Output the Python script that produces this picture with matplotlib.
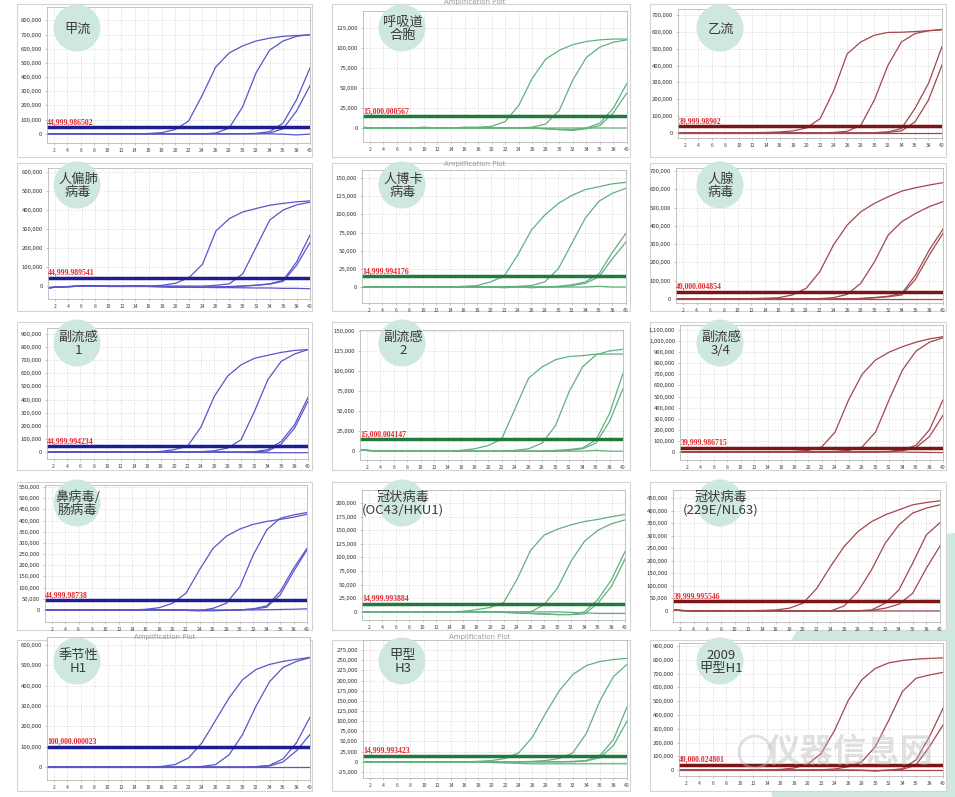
import matplotlib
matplotlib.use("Agg")
import matplotlib.pyplot as plt
from matplotlib.patches import Circle, Rectangle
from matplotlib.ticker import FuncFormatter

plt.rcParams['font.family'] = ['Noto Sans CJK SC', 'DejaVu Sans']

W, H = 955, 797

cycles = [1, 2, 4, 6, 8, 10, 12, 14, 16, 18, 20, 22, 24, 26, 28, 30, 32, 34, 36, 38, 40]

names = ["甲流", "呼吸道\n合胞", "乙流",
         "人偏肺\n病毒", "人博卡\n病毒", "人腺\n病毒",
         "副流感\n1", "副流感\n2", "副流感\n3/4",
         "鼻病毒/\n肠病毒", "冠状病毒\n(OC43/HKU1)", "冠状病毒\n(229E/NL63)",
         "季节性\nH1", "甲型\nH3", "2009\n甲型H1"]

threshold_labels = ["44,999.986502", "15,000.000567", "39,999.98902",
                    "44,999.989541", "14,999.994176", "40,000.004854",
                    "44,999.994234", "15,000.004147", "39,999.986715",
                    "44,999.98738", "14,999.993884", "39,999.995546",
                    "100,000.000023", "14,999.993423", "40,000.024801"]
thresholds = [44999.986502, 15000.000567, 39999.98902,
              44999.989541, 14999.994176, 40000.004854,
              44999.994234, 15000.004147, 39999.986715,
              44999.98738, 14999.993884, 39999.995546,
              100000.000023, 14999.993423, 40000.024801]

# fluorescence values in thousands, one list per well
p01 = [[0, 0, 0, 0, 0, 0, 0, 0, 2, 8, 30, 90, 270, 470, 570, 620, 655, 675, 688, 694, 698],
       [0, 0, 0, 0, 0, 0, 0, 0, 0, 0, 0, 0, 0, 5, 40, 190, 430, 590, 655, 688, 700],
       [0, 0, 0, 0, 0, 0, 0, 0, 0, 0, 0, 0, 0, 0, 0, 1, 3, 15, 75, 240, 465],
       [0, 0, 0, 0, 0, 0, 0, 0, 0, 0, 0, 0, 0, 0, 0, 0, 1, 5, 35, 160, 340],
       [0, 0, 0, 0, 0, 0, 0, 0, 0, 0, 0, 0, 0, 0, 0, 0, 0, 0, -3, -8, -2]]
p02 = [[0, 0, 0, 0, 0, 0, 0, 0, 1, 1, 2, 8, 28, 62, 86, 97, 104, 108, 110, 111, 111],
       [1, 0, 0, 0, 0, 0, 0, 0, 0, 0, 0, 0, 0, 1, 5, 22, 60, 88, 101, 107, 110],
       [1, 0, 0, 0, 0, 0, 0, 0, 0, 0, 0, 0, 0, 0, -1, -2, -2, 0, 6, 25, 56],
       [0, 0, 0, 0, 0, 0, 0, 0, 0, 0, 0, 0, 0, 0, -1, -2, -3, -1, 3, 19, 44],
       [0, 0, 0, 0, 0, 1, 0, 0, 0, 0, 0, 0, 0, 0, 0, 0, 0, 0, 0, 0, 0]]
p03 = [[0, 0, 0, 0, 0, 0, 2, 3, 6, 12, 30, 85, 250, 470, 540, 580, 597, 598, 602, 607, 615],
       [0, 0, 0, 0, 0, 0, 0, 0, 0, 0, 0, 1, 3, 10, 45, 195, 400, 540, 590, 607, 612],
       [0, 0, 0, 0, 0, 0, 0, 0, 0, 0, 0, 0, 0, 0, 0, 2, 6, 26, 145, 294, 512],
       [0, 0, 0, 0, 0, 0, 0, 0, 0, 0, 0, 0, 0, 0, 0, 1, 3, 12, 65, 195, 403],
       [0, 0, 0, 0, 0, 0, 0, 0, 0, 0, 0, 0, 0, 0, 0, 0, 0, 0, 0, 0, 0]]
p04 = [[-10, -6, -3, 0, 2, 0, 0, 2, 0, 4, 15, 45, 115, 290, 355, 390, 408, 425, 435, 443, 448],
       [-10, -6, -3, 0, 0, 0, -2, 0, 0, 0, 0, 0, 0, 4, 12, 65, 206, 347, 400, 427, 441],
       [-10, -6, -3, 0, 0, -2, -2, -2, -2, -3, -5, -6, -6, -5, -3, 0, 5, 12, 30, 127, 268],
       [-10, -6, -3, 0, 0, -2, -2, -2, -2, -3, -5, -6, -6, -5, -3, 0, 4, 10, 25, 109, 229],
       [-8, -5, -3, 0, 0, 0, 0, 0, -2, -4, -6, -7, -7, -8, -8, -9, -10, -10, -12, -12, -14]]
p05 = [[0, 0, 0, 0, 0, 0, 0, 0, 1, 2, 7, 15, 44, 78, 99, 115, 126, 134, 138, 142, 144],
       [0, 0, 0, 0, 0, 0, 0, 0, 0, 0, 0, 0, 1, 2, 7, 25, 60, 95, 118, 129, 136],
       [0, 0, 0, 0, 0, 0, 0, 0, 0, 0, 0, 0, 0, 0, 0, 1, 3, 7, 18, 48, 74],
       [0, 0, 0, 0, 0, 0, 0, 0, 0, 0, 0, 0, 0, 0, 0, 0, 2, 5, 14, 39, 62],
       [0, 0, 0, 0, 0, 0, 0, 0, 0, 0, 0, -1, 0, -1, 0, 0, 0, 0, 1, 0, 0]]
p06 = [[0, 0, 0, 0, 0, 1, 2, 4, 7, 22, 58, 149, 295, 404, 477, 523, 559, 590, 608, 623, 636],
       [0, 0, 0, 0, 0, 0, 0, 0, 0, 0, 1, 2, 7, 25, 86, 204, 350, 423, 468, 505, 532],
       [0, 0, 0, 0, 0, 0, 0, 0, 0, 0, 0, 0, 0, 1, 3, 8, 15, 31, 131, 268, 382],
       [0, 0, 0, 0, 0, 0, 0, 0, 0, 0, 0, 0, 0, 1, 2, 6, 12, 22, 109, 240, 359],
       [0, 0, 0, 0, 0, 0, 0, 0, 0, 0, 0, 0, 0, 0, 0, 0, 0, 0, 0, 0, 0]]
p07 = [[0, 0, 0, 0, 0, 0, 0, 0, 0, 5, 18, 45, 190, 425, 580, 665, 715, 738, 760, 775, 781],
       [0, 0, 0, 0, 0, 0, 0, 0, 0, 0, 0, 0, 3, 10, 30, 94, 310, 552, 692, 748, 781],
       [0, 0, 0, 0, 0, 0, 0, 0, 0, 0, 0, 0, 0, 0, 0, 0, 3, 18, 81, 209, 417],
       [0, 0, 0, 0, 0, 0, 0, 0, 0, 0, 0, 0, 0, 0, 0, 0, 2, 8, 61, 183, 387],
       [0, 0, 0, 0, 0, 0, 0, 0, 0, 0, 0, 0, 0, 0, -2, -3, -4, -5, -5, -5, -5]]
p08 = [[2, 1, 0, 0, 0, 0, 0, 0, 1, 3, 7, 15, 53, 91, 105, 114, 118, 119, 121, 121, 121],
       [2, 1, 0, 0, 0, 0, 0, 0, 0, 0, 0, 0, 1, 3, 10, 32, 74, 105, 120, 125, 127],
       [2, 1, 0, 0, 0, 0, 0, 0, 0, 0, 0, 0, 0, 0, 0, 1, 2, 4, 14, 47, 97],
       [2, 1, 0, 0, 0, 0, 0, 0, 0, 0, 0, 0, 0, 0, 0, 0, 1, 3, 10, 37, 78],
       [2, 1, 0, 0, 0, 0, 0, 0, 0, 0, 0, 0, 0, 0, 0, 0, 0, 0, 1, 0, 0]]
p09 = [[0, 0, 0, 0, 0, 0, 0, 0, 0, 5, 15, 45, 180, 470, 700, 830, 900, 950, 990, 1020, 1040],
       [0, 0, 0, 0, 0, 0, 0, 0, 0, 0, 0, 0, 5, 15, 45, 180, 470, 740, 910, 990, 1030],
       [0, 0, 0, 0, 0, 0, 0, 0, 0, 0, 0, 0, 0, 0, 0, 0, 5, 20, 60, 200, 470],
       [0, 0, 0, 0, 0, 0, 0, 0, 0, 0, 0, 0, 0, 0, 0, 0, 3, 12, 40, 140, 330],
       [0, 0, 0, 0, 0, 0, 0, 0, 0, 0, 0, 0, 0, 0, 0, 0, 0, 0, -2, -4, -5]]
p10 = [[0, 0, 0, 0, 0, 0, 0, 0, 3, 10, 30, 75, 180, 275, 330, 362, 383, 396, 405, 415, 428],
       [0, 0, 0, 0, 0, 0, 0, 0, 0, 0, 0, -2, -3, 7, 30, 104, 246, 358, 410, 425, 436],
       [0, 0, 0, 0, 0, 0, 0, 0, 0, 0, 0, -2, -3, -3, -2, 0, 5, 18, 82, 186, 276],
       [0, 0, 0, 0, 0, 0, 0, 0, 0, 0, 0, -2, -3, -3, -2, 0, 4, 12, 67, 172, 269],
       [0, 0, 0, 0, 0, 0, 0, 0, 0, 0, 0, 0, 0, 0, 0, 0, 0, 1, 2, 3, 5]]
p11 = [[0, 0, 0, 0, 0, 0, 0, 0, 1, 4, 8, 17, 60, 113, 141, 152, 160, 166, 170, 175, 179],
       [0, 0, 0, 0, 0, 0, 0, 0, 0, 0, 0, 0, -1, 0, 13, 44, 93, 130, 150, 162, 169],
       [0, 0, 0, 0, 0, 0, 0, 0, 0, 0, 0, -1, -2, -3, -4, -5, -5, 0, 23, 59, 111],
       [0, 0, 0, 0, 0, 0, 0, 0, 0, 0, 0, -1, -2, -3, -4, -5, -5, -4, 16, 47, 97],
       [0, 0, 0, 0, 0, 0, 0, 0, 0, 0, 0, 0, 0, 0, 0, 0, -1, -2, -3, -3, -3]]
p12 = [[5, 2, 0, 0, 0, 0, 1, 2, 4, 11, 31, 90, 177, 257, 316, 356, 383, 403, 423, 432, 439],
       [5, 2, 0, 0, 0, 0, 0, 0, 0, 0, 0, -2, 0, 20, 77, 164, 270, 343, 390, 410, 423],
       [5, 2, 0, 0, 0, 0, 0, 0, 0, 0, 0, 0, 0, 0, 1, 4, 31, 84, 190, 303, 352],
       [5, 2, 0, 0, 0, 0, 0, 0, 0, 0, 0, 0, 0, 0, 0, 2, 11, 27, 70, 170, 259],
       [5, 2, 0, 0, 0, 0, 0, 0, 0, 0, 0, 0, 0, 0, 0, 0, 0, 0, 0, 0, 0]]
p13 = [[0, 0, 0, 0, 0, 0, 0, 0, 0, 3, 12, 45, 120, 230, 340, 430, 480, 505, 520, 530, 540],
       [0, 0, 0, 0, 0, 0, 0, 0, 0, 0, 0, 0, 3, 12, 60, 160, 300, 420, 490, 520, 538],
       [0, 0, 0, 0, 0, 0, 0, 0, 0, 0, 0, 0, 0, 0, 0, 0, 2, 8, 40, 120, 245],
       [0, 0, 0, 0, 0, 0, 0, 0, 0, 0, 0, 0, 0, 0, 0, 0, 1, 5, 25, 80, 160],
       [0, 0, 0, 0, 0, 0, 0, 0, 0, 0, 0, 0, 0, 0, 0, 0, 0, 0, 0, 0, 0]]
p14 = [[0, 0, 0, 0, 0, 0, 0, 0, 0, 1, 3, 8, 22, 60, 120, 175, 215, 237, 247, 252, 255],
       [0, 0, 0, 0, 0, 0, 0, 0, 0, 0, 0, 0, 0, 1, 3, 8, 22, 70, 150, 210, 240],
       [0, 0, 0, 0, 0, 0, 0, 0, 0, 0, 0, 0, 0, 0, 0, 0, 1, 3, 15, 55, 135],
       [0, 0, 0, 0, 0, 0, 0, 0, 0, 0, 0, 0, 0, 0, 0, 0, 0, 2, 10, 40, 100],
       [0, 0, 0, 0, 0, 0, 0, 0, 0, 0, -2, -3, -4, -5, -5, -5, -5, -5, -5, -5, -5]]
p15 = [[0, 0, 0, 0, 0, 0, 0, 2, 5, 15, 42, 120, 290, 505, 655, 738, 778, 795, 805, 810, 814],
       [0, 0, 0, 0, 0, 0, 0, 0, 0, 0, 0, 2, 8, 24, 60, 170, 363, 569, 666, 690, 709],
       [0, 0, 0, 0, 0, 0, 0, 0, 0, 0, 0, 0, 0, 0, -2, -5, 0, 10, 73, 242, 448],
       [0, 0, 0, 0, 0, 0, 0, 0, 0, 0, 0, 0, 0, 0, -2, -5, -2, 5, 36, 170, 327],
       [0, 0, 0, 0, 0, 0, 0, 0, 0, 0, 0, 0, 0, 0, 0, 0, 0, 0, 0, 0, 0]]
panels = [p01, p02, p03, p04, p05, p06, p07, p08, p09, p10, p11, p12, p13, p14, p15]

# y axis: (min, max, tick step, first tick, last tick) in thousands
y_axes = [(-65, 895, 100, 0, 800), (-17.5, 146, 25, 0, 125), (-30, 736, 100, 0, 700),
          (-68, 621, 100, 0, 600), (-22, 161, 25, 0, 150), (-22, 716, 100, 0, 700),
          (-53, 946, 100, 0, 900), (-11, 151, 25, 0, 150), (-72, 1145, 100, 0, 1100),
          (-54, 559, 50, 0, 550), (-15, 224, 25, 0, 200), (-44, 482, 50, 0, 450),
          (-64, 640, 100, 0, 600), (-40, 300, 25, -25, 275), (-43, 922, 100, 0, 900)]

# layout, pixels: plot area (left, top, right, bottom)
plot_boxes = [(47, 7, 310, 143), (363, 11, 627, 142), (678, 9, 942, 138),
              (48, 168, 310, 299), (362, 170, 626, 303), (676, 168, 943, 303),
              (47, 328, 308, 459), (360, 330, 623, 460), (680, 325, 943, 460),
              (45, 485, 307, 622), (362, 490, 625, 620), (673, 490, 940, 622),
              (47, 637, 310, 780), (363, 640, 627, 778), (679, 643, 943, 776)]
col_x = [(17, 312), (332, 630), (650, 946)]
row_y = [(4, 157), (163, 311), (322, 470), (482, 630), (640, 791)]
circle_x = [77, 402, 720]
circle_y = [28, 185, 343, 503, 661]

line_colors = ["#5a55c9", "#62b080", "#a2474d"]
thr_colors = ["#1e1e92", "#1f7a3c", "#7a1518"]
mint = "#cfe8de"


def frac(l, t, r, b):
    return [l / W, 1 - b / H, (r - l) / W, (b - t) / H]


fig = plt.figure(figsize=(W / 100, H / 100), dpi=100)
fig.patch.set_facecolor("white")

bg = fig.add_axes([0, 0, 1, 1], zorder=0)
bg.set_xlim(0, W)
bg.set_ylim(H, 0)
bg.axis("off")
bg.add_patch(Circle((975, 742), 210, color=mint, lw=0))
for (x0, x1) in col_x:
    for (y0, y1) in row_y:
        bg.add_patch(Rectangle((x0, y0), x1 - x0, y1 - y0, facecolor="white",
                               edgecolor="#d4d4d4", lw=0.8))

kfmt = FuncFormatter(lambda v, p: "{:,.0f}".format(v * 1000))

for i, curves in enumerate(panels):
    col = i % 3
    l, t, r, b = plot_boxes[i]
    ax = fig.add_axes(frac(l, t, r, b), zorder=1)
    ax.set_facecolor("white")
    ymin, ymax, step, y_first, y_last = y_axes[i]
    ax.set_xlim(1, 40)
    ax.set_ylim(ymin, ymax)
    ax.set_xticks(range(2, 41, 2))
    yt = []
    v = y_first
    while v <= y_last + 0.01:
        yt.append(v)
        v += step
    ax.set_yticks(yt)
    ax.yaxis.set_major_formatter(kfmt)
    ax.grid(True, color="#d6d6d6", lw=0.5, ls=(0, (2, 2)))
    ax.set_axisbelow(True)
    for s in ax.spines.values():
        s.set_color("#b8b8b8")
        s.set_linewidth(0.6)
    ax.tick_params(axis="x", labelsize=3.6, length=1.5, width=0.4, color="#999999",
                   labelcolor="#444444", pad=2)
    ax.tick_params(axis="y", labelsize=4.3, length=1.5, width=0.4, color="#999999",
                   labelcolor="#333333", pad=2)
    for ys in curves:
        ax.plot(cycles, ys, color=line_colors[col], lw=0.9, solid_joinstyle="round")
    thr = thresholds[i] / 1000
    ax.axhline(thr, color=thr_colors[col], lw=2.5)
    ax.text(1.05, thr + (ymax - ymin) * 0.006, threshold_labels[i], color="#e3262e",
            fontsize=5.6, family="Liberation Serif", weight="bold",
            ha="left", va="bottom")

ov = fig.add_axes([0, 0, 1, 1], zorder=3)
ov.set_xlim(0, W)
ov.set_ylim(H, 0)
ov.axis("off")
ov.patch.set_alpha(0)
for i, name in enumerate(names):
    cx = circle_x[i % 3]
    cy = circle_y[i // 3]
    ov.add_patch(Circle((cx, cy), 23.5, color=mint, lw=0))
    ov.text(cx + 1, cy + 1, name, ha="center", va="center", fontsize=9.5,
            color="#3a3a3a", linespacing=1.0, weight="light")

for (tx, ty) in [(475, 2), (475, 164), (165, 637), (480, 637)]:
    ov.text(tx, ty, "Amplification Plot", ha="center", va="center",
            fontsize=5, color="#9a9a9a", family="DejaVu Sans")

ov.text(850, 752, "仪器信息网", ha="center", va="center", fontsize=24,
        color="#bdbdbd", alpha=0.45, weight="bold")
ov.add_patch(Circle((755, 752), 16, facecolor="none", edgecolor="#bdbdbd",
                    alpha=0.45, lw=2))

fig.savefig("out.png", dpi=100)
